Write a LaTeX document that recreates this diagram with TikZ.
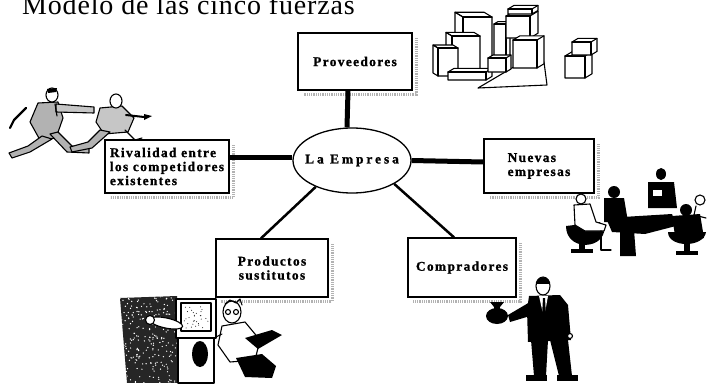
\documentclass[tikz,border=0pt]{standalone}
\usepackage{fontspec}
\setmainfont{Liberation Serif}
\usetikzlibrary{shapes.geometric}

% a box drawn as a front face with its side face on the right
\newcommand\crate[5]{%
  \filldraw[art,fill=white] (#1,#2) -- ++(#5,{-0.6*#5}) -- ++(#3,0) -- ++(0,#4)
    -- ++({-#5},{0.6*#5}) -- ++({-#3},0) -- cycle;
  \draw[art] (#1,#2) -- ++(#3,0) -- ++(0,#4);
  \draw[art] ({#1+#3},#2) -- ++(#5,{-0.6*#5});}
% a box drawn with its side face on the left
\newcommand\lcrate[5]{%
  \filldraw[art,fill=white] (#1,#2) -- ++({-#5},{-0.6*#5}) -- ++(#3,0) -- ++(#5,{0.6*#5})
    -- ++(0,#4) -- ++({-#3},0) -- ++({-#5},{-0.6*#5}) -- ++(0,{-#4}) -- cycle;
  \draw[art] ({#1+#3},#2) -- ++({-#3},0) -- ++(0,#4);
  \draw[art] (#1,#2) -- ++({-#5},{-0.6*#5});}
% grainy shadow strip on the right and bottom of a box
\newcommand\boxshadow[1]{%
  \draw[shadowline] ([xshift=3.5pt,yshift=-6pt]#1.north east)
    -- ([xshift=3.5pt,yshift=-3.5pt]#1.south east)
    -- ([xshift=6pt,yshift=-3.5pt]#1.south west);}

\tikzset{
  art/.style={line width=1.1pt, line join=round, line cap=round},
  shadowline/.style={line width=3pt, gray!60, dash pattern=on 1pt off 0.8pt},
  labelfont/.style={font=\fontsize{13.4}{14}\selectfont\bfseries\addfontfeature{LetterSpace=#1,FakeBold=1.2}},
  force/.style={draw, line width=1.3pt, fill=white, inner sep=0pt, align=center, labelfont=10},
  bar/.style={line width=5pt},
  rod/.style={line width=2.5pt},
}

\begin{document}
\begin{tikzpicture}[x=1pt,y=-1pt]
\useasboundingbox (0,0) rectangle (707,383);
\fill[white] (0,0) rectangle (707,383);

% heading, its top running off the page
\node[anchor=base west, inner sep=0pt,
  font=\fontsize{28}{30}\selectfont\addfontfeature{LetterSpace=3}] (title) at (22,14)
  {Modelo de las cinco fuerzas};

% ---------- the five forces around the firm ----------
\node[force, minimum width=114pt, minimum height=57pt] (prov) at (355,61.5) {Proveedores};
\node[force, minimum width=124pt, minimum height=53pt, align=left] (riv) at (167,166.5)
  {Rivalidad entre\\los competidores\\existentes};
\node[draw, line width=1.3pt, fill=white, ellipse, inner sep=0pt,
  minimum width=118pt, minimum height=65pt] (emp) at (352,160.5) {};
\node[labelfont=22, inner sep=0pt] (emptext) at (emp.center) {La Empresa};
\node[force, minimum width=110pt, minimum height=54pt, align=left] (nue) at (539,166)
  {Nuevas\\empresas};
\node[force, minimum width=112pt, minimum height=58pt] (prod) at (272,268)
  {Productos\\sustitutos};
\node[force, minimum width=108pt, minimum height=59pt] (comp) at (462,267.5) {Compradores};

\boxshadow{prov}
\boxshadow{riv}
\boxshadow{nue}
\boxshadow{prod}
\boxshadow{comp}

% connectors
\draw[bar] ([xshift=-7pt]prov.south) -- ([xshift=-5pt]emp.north);
\draw[bar] ([yshift=9.5pt]riv.east) -- ([yshift=3.5pt]emp.west);
\draw[bar] (emp.east) -- ([yshift=4pt]nue.west);
\draw[rod] (emp.216) -- ([xshift=-11pt]prod.north);
\draw[rod] (emp.331) -- ([xshift=-8pt]comp.north);

% redraw the frames over the connector ends
\foreach \b in {prov,riv,nue,prod,comp}{\draw[line width=1.3pt] (\b.north west) rectangle (\b.south east);}

% ---------- stacked boxes (suppliers) ----------
\filldraw[art,fill=white] (478,88) -- (547,85) -- (544,62) -- (517,65) -- cycle;
\crate{494}{24}{12}{40}{4}
\crate{506}{16}{24}{22}{8}
\crate{508}{9}{24}{5}{6}
\lcrate{463}{17}{29}{55}{8}
\lcrate{452}{36}{28}{36}{6}
\lcrate{438}{48}{20}{28}{5}
\crate{448}{72}{38}{8}{6}
\crate{488}{58}{18}{14}{5}
\crate{513}{40}{24}{28}{7}
\crate{565}{56}{20}{22}{7}
\crate{572}{42}{19}{13}{6}

% ---------- two rivals pulling at each other ----------
\draw[art, line width=2.2pt] (26,108) -- (14,120) -- (10,128);
\filldraw[art,fill=gray!60] (38,103) -- (58,102) -- (63,118) -- (56,138) -- (40,140) -- (30,122) -- cycle;
\filldraw[art,fill=gray!60] (42,136) -- (52,139) -- (30,152) -- (12,158) -- (9,153) -- (28,146) -- cycle;
\filldraw[art,fill=gray!60] (50,134) -- (58,132) -- (72,146) -- (89,148) -- (89,153) -- (67,152) -- cycle;
\filldraw[art,fill=gray!45] (56,104) -- (94,107) -- (94,113) -- (56,112) -- cycle;
\draw[art] (55,104) -- (57,116);
\filldraw[art,fill=white] (52,95) ellipse (6 and 7);
\fill (47,89) -- (57,88) -- (56,92) -- (48,93) -- cycle;
\filldraw[art,fill=gray!45] (100,108) -- (122,106) -- (134,118) -- (128,132) -- (104,134) -- (96,122) -- cycle;
\filldraw[art,fill=gray!60] (100,130) -- (110,132) -- (92,148) -- (72,152) -- (70,147) -- (88,142) -- cycle;
\draw[art] (125,130) -- (135,140) -- (142,138);
\draw[art, line width=2pt] (126,115) -- (144,117);
\fill (144,114) -- (152,116) -- (144,120) -- cycle;
\filldraw[art,fill=white] (116,101) ellipse (6 and 7);

% ---------- meeting around a table (new entrants) ----------
\fill (566,226) .. controls (566,250) and (600,250) .. (604,232) -- (600,222) -- cycle;
\fill (579,244) rectangle (585,250);
\fill (571,249) rectangle (593,253);
\filldraw[art,fill=white] (574,205) -- (590,204) -- (596,222) -- (606,225) -- (604,231) -- (585,231) -- (575,225) -- cycle;
\filldraw[art,fill=white] (581,199) circle (5);
\draw[art] (601,231) -- (601,250) -- (611,250);
\fill (614,192) circle (6);
\fill (604,198) -- (624,198) -- (628,222) -- (604,222) -- cycle;
\fill (606,218) -- (672,214) -- (676,226) -- (645,234) -- (612,232) -- cycle;
\fill (620,230) -- (634,230) -- (636,256) -- (620,256) -- cycle;
\fill (661,174) ellipse (5 and 6);
\fill (648,182) -- (674,182) -- (677,208) -- (648,208) -- cycle;
\fill[white] (653,190) rectangle (662,196);
\fill (668,232) .. controls (668,248) and (704,248) .. (706,232) -- cycle;
\fill (684,244) rectangle (690,252);
\fill (676,251) rectangle (698,255);
\fill (672,216) -- (700,214) -- (704,238) -- (676,242) -- cycle;
\fill (686,210) circle (6);
\draw[art] (700,200) circle (5);
\draw[art] (696,206) -- (694,215) -- (706,218);

% ---------- man at a computer (substitutes) ----------
\begin{scope}
  \clip (120,298) -- (177,296) -- (178,383) -- (127,383) -- cycle;
  \fill[black!85] (115,290) rectangle (180,383);
  \pgfmathsetseed{11}
  \foreach \i in {1,...,260}{
    \pgfmathsetmacro\px{118+62*rnd}
    \pgfmathsetmacro\py{294+90*rnd}
    \fill[white] (\px,\py) circle (0.7);
  }
\end{scope}
\filldraw[art,fill=white] (178,338) rectangle (214,383);
\fill (200,354) ellipse (8 and 13);
\filldraw[art,fill=white] (176,299) rectangle (216,338);
\draw[art] (181,303) rectangle (211,331);
\pgfmathsetseed{5}
\foreach \i in {1,...,30}{
  \pgfmathsetmacro\px{184+24*rnd}
  \pgfmathsetmacro\py{306+22*rnd}
  \fill (\px,\py) circle (0.5);
}
\filldraw[art,fill=white, rotate around={-12:(166,323)}] (166,323) ellipse (17 and 5);
\filldraw[art,fill=white] (150,320) circle (4.5);
\filldraw[art,fill=white] (222,326) -- (245,322) -- (260,340) -- (255,360) -- (230,362) -- (218,345) -- cycle;
\fill (236,358) -- (262,354) -- (276,366) -- (272,378) -- (245,377) -- cycle;
\fill (245,338) -- (272,330) -- (282,335) -- (258,349) -- cycle;
\draw[art] (222,334) -- (214,338);
\filldraw[art,fill=white] (232,312) ellipse (9 and 11);
\draw[art] (225,304) -- (230,300) -- (236,303) -- (240,299) -- (242,305);
\draw[art] (228,312) circle (2.5) (236,312) circle (2.5);

% ---------- buyer holding a money bag ----------
\fill (531,340) -- (548,340) -- (546,376) -- (534,376) -- cycle;
\fill (550,340) -- (568,340) -- (572,376) -- (559,376) -- cycle;
\fill (526,375) rectangle (547,381);
\fill (557,375) rectangle (578,381);
\fill (529,296) -- (560,295) -- (568,305) -- (571,340) -- (528,342) -- (527,310) -- cycle;
\fill[white] (539,296) -- (548,296) -- (544,318) -- cycle;
\fill (543,298) -- (545,298) -- (546,316) -- (544,320) -- (542,316) -- cycle;
\fill (530,302) -- (530,316) -- (510,322) -- (508,315) -- cycle;
\fill (497,316) ellipse (11 and 8);
\fill (494,305) rectangle (500,311);
\fill (490,302) -- (504,302) -- (500,307) -- (494,307) -- cycle;
\filldraw[art,fill=white] (570,336) circle (2.5);
\filldraw[art,fill=white] (543,286) ellipse (7 and 9);
\fill (536,284) .. controls (536,275) and (550,275) .. (550,284) -- cycle;
\end{tikzpicture}
\end{document}
